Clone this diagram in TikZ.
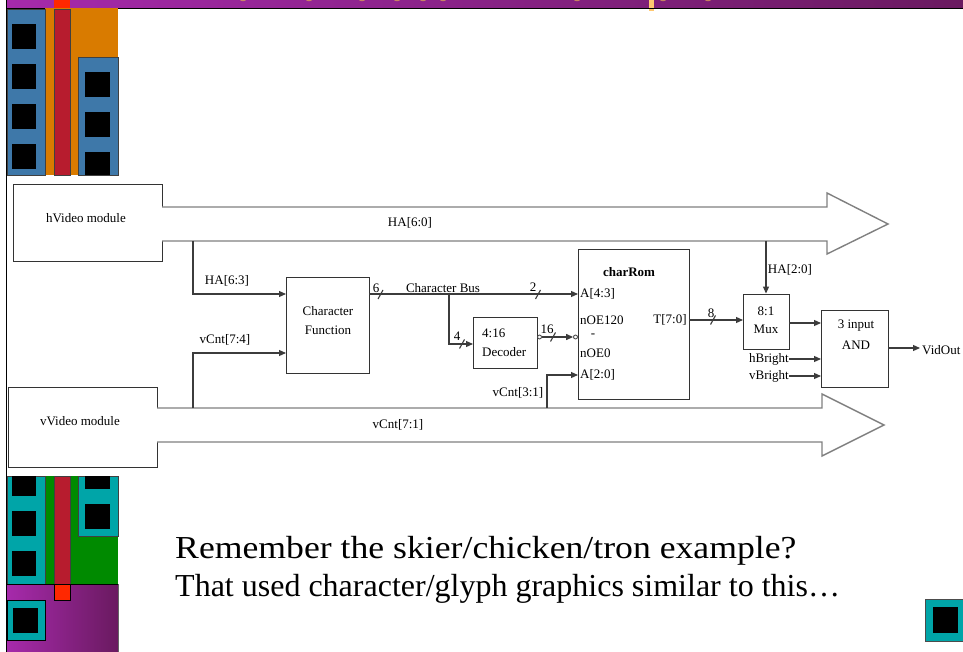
\documentclass[tikz,border=0pt]{standalone}
\usepackage{fontspec}
\setmainfont{Liberation Serif}
\usetikzlibrary{arrows.meta,calc}

\definecolor{slidepurpleL}{HTML}{A62AAB}
\definecolor{slidepurpleR}{HTML}{6A1A60}
\definecolor{steelblue}{HTML}{3E78A9}
\definecolor{amber}{HTML}{D97B00}
\definecolor{crimson}{HTML}{B71C2E}
\definecolor{hotred}{HTML}{FF2800}
\definecolor{tealc}{HTML}{00A5A8}
\definecolor{leaf}{HTML}{008A00}
\definecolor{busgray}{HTML}{808080}
\definecolor{wiregray}{HTML}{3C3C3C}
\definecolor{titlebit}{HTML}{D8985C}
\definecolor{titlebar}{HTML}{FFC870}

\begin{document}
\begin{tikzpicture}[x=1pt,y=-1pt,
  box/.style={draw=black!80, line width=0.9pt, fill=white, inner sep=0pt},
  wire/.style={draw=wiregray, line width=1.1pt},
  arrowend/.style={-{Triangle[length=7pt,width=6pt]}},
  bus/.style={draw=busgray, line width=1.4pt, line join=miter},
  lbl/.style={font=\fontsize{13}{14}\selectfont, inner sep=0pt},
  deco/.style={draw=black!75, line width=0.6pt},
  hole/.style={fill=black},
  bubble/.style={circle, draw=wiregray, line width=0.8pt, fill=white, inner sep=0pt, minimum size=4pt},
  busslash/.pic={\draw[wire] (-2.5,4.5) -- (2.5,-4.5);}]

\useasboundingbox (0,0) rectangle (963,652);
\fill[white] (0,0) rectangle (963,652);

% ---------- slide frame: title band and left border ----------
\shade[left color=slidepurpleL, right color=slidepurpleR] (7,0) rectangle (963,8);
\foreach \bx in {243,309,362,397,423,443,577,663,708}
  \fill[titlebit, opacity=0.8] (\bx,0) ellipse (3 and 1.2);
\fill[titlebar] (649,0) rectangle (654,11);
\draw[black, line width=1pt] (7,8.5) -- (963,8.5);
\draw[black, line width=1.2pt] (6.5,0) -- (6.5,652);

% ---------- upper building strip ----------
\fill[amber] (45,8) rectangle (118,175);
\draw[deco, fill=steelblue] (7,9) rectangle (45,175);
\draw[deco, fill=crimson] (54,9) rectangle (70,175);
\draw[deco, fill=steelblue] (78,57) rectangle (118,175);
\fill[hotred] (54,0) rectangle (70,8);
\foreach \wy in {24,64,104,144} \fill[hole] (12,\wy) rectangle (36,\wy+25);
\foreach \wy in {72,112,152} \fill[hole] (85,\wy) rectangle (110,{min(\wy+25,175)});

% ---------- lower building strip ----------
\fill[leaf] (45,476) rectangle (118,584);
\draw[deco, fill=tealc] (7,476) rectangle (45,584);
\draw[deco, fill=crimson] (54,476) rectangle (70,584);
\draw[deco, fill=tealc] (78,476) rectangle (118,536);
\fill[hole] (12,476) rectangle (36,496);
\fill[hole] (12,511) rectangle (36,536);
\fill[hole] (12,551) rectangle (36,576);
\fill[hole] (85,476) rectangle (110,489);
\fill[hole] (85,504) rectangle (110,529);
\shade[left color=slidepurpleL, right color=slidepurpleR] (7,584) rectangle (118,652);
\draw[black, line width=0.8pt] (7,584) -- (118,584);
\draw[black!60, line width=0.8pt] (118,584) -- (118,652);
\draw[black, line width=0.8pt, fill=hotred] (54,584) rectangle (70,600);
\draw[black, line width=0.8pt, fill=tealc] (7,600) rectangle (45,640);
\fill[hole] (13,608) rectangle (38,633);

% corner badge
\draw[black!70, line width=0.6pt, fill=tealc] (925,599) rectangle (963,641);
\fill[hole] (933,607) rectangle (958,633);

% ---------- block diagram ----------
\node[box, minimum width=149pt, minimum height=77pt] (hvid) at (87.5,222.5) {};
\node[box, minimum width=149pt, minimum height=80pt] (vvid) at (82.5,427) {};
\node[lbl] (hvidtxt) at (86,218) {hVideo module};
\node[lbl] (vvidtxt) at (80,421) {vVideo module};

% wide bus arrows
\coordinate (habusT) at (162,207);
\coordinate (habusB) at (162,241);
\coordinate (vcbusT) at (157,408);
\coordinate (vcbusB) at (157,442);
\draw[bus, fill=white] (habusT) -- (827,207) -- (827,193) -- (888,224) -- (827,254) -- (827,241) -- (habusB);
\draw[bus, fill=white] (vcbusT) -- (822,408) -- (822,394) -- (884,425) -- (822,456) -- (822,442) -- (vcbusB);
\node[lbl] (ha60) at (410,223) {HA[6:0]};
\node[lbl] (vc71) at (398,425) {vCnt[7:1]};

% functional blocks
\node[box, minimum width=83pt, minimum height=96pt] (cf) at (327.5,325) {};
\node[box, minimum width=64pt, minimum height=51pt] (dec) at (505,342.5) {};
\node[box, minimum width=111pt, minimum height=150pt] (rom) at (633.5,324) {};
\node[box, minimum width=46pt, minimum height=55pt] (mux) at (766,321.5) {};
\node[box, minimum width=67pt, minimum height=77pt] (andg) at (854.5,348.5) {};

\node[lbl] (cft1) at (328,311) {Character};
\node[lbl] (cft2) at (328,330) {Function};
\node[lbl, anchor=west] (dect1) at (482,333) {4:16};
\node[lbl, anchor=west] (dect2) at (482,352) {Decoder};
\node[lbl, font=\fontsize{13}{14}\selectfont\bfseries] (romt) at (629,272) {charRom};
\node[lbl, anchor=west] (pA43) at (580,294) {A[4:3]};
\node[lbl, anchor=west] (pOE120) at (580,320) {nOE120};
\node[lbl] (pdots) at (593,336) {-};
\node[lbl, anchor=west] (pOE0) at (580,353) {nOE0};
\node[lbl, anchor=west] (pA20) at (580,375) {A[2:0]};
\node[lbl] (pT70) at (670,320) {T[7:0]};
\node[lbl] (muxt1) at (766,311) {8:1};
\node[lbl] (muxt2) at (766,329) {Mux};
\node[lbl] (andt1) at (856,326) {3 input};
\node[lbl] (andt2) at (856,345) {AND};

% pin points on the block edges
\coordinate (tap63) at (193,241);
\coordinate (tap74) at (193,408);
\coordinate (tap31) at (547,408);
\coordinate (tap20) at (766,241);
\coordinate (cfIn1) at (286,294);
\coordinate (cfIn2) at (286,353);
\coordinate (cfOut) at (369,294);
\coordinate (romA43) at (578,294);
\coordinate (romA20) at (578,375);
\coordinate (branch) at (449,294);
\coordinate (decIn) at (473,344);
\coordinate (romOut) at (689,320);
\coordinate (muxIn) at (743,320);
\coordinate (muxOut) at (789,323);
\coordinate (andIn1) at (821,323);
\coordinate (andIn2) at (821,359);
\coordinate (andIn3) at (821,376);
\coordinate (andOut) at (888,348);
\coordinate (vidOut) at (920,348);
\coordinate (hbS) at (789,359);
\coordinate (vbS) at (789,376);
\node[bubble] (bubA) at (539.5,337) {};
\node[bubble] (bubB) at (575.5,337) {};

% connectors
\draw[wire, arrowend] (tap63) |- (cfIn1);
\draw[wire, arrowend] (tap74) |- (cfIn2);
\draw[wire, arrowend] (cfOut) -- (romA43);
\draw[wire, arrowend] (branch) |- (decIn);
\draw[wire, arrowend] (bubA) -- (bubB);
\draw[wire, arrowend] (tap31) |- (romA20);
\draw[wire, arrowend] (romOut) -- (muxIn);
\draw[wire, arrowend] (tap20) -- (mux.north);
\draw[wire, arrowend] (muxOut) -- (andIn1);
\draw[wire, arrowend] (hbS) -- (andIn2);
\draw[wire, arrowend] (vbS) -- (andIn3);
\draw[wire, arrowend] (andOut) -- (vidOut);

% bus width marks
\pic at (380.5,294.5) {busslash};
\pic at (538,294.5) {busslash};
\pic at (462,344) {busslash};
\pic at (553,337) {busslash};
\pic at (713,320) {busslash};

% wire labels
\node[lbl] (l63) at (227,281) {HA[6:3]};
\node[lbl] (l74) at (225,340) {vCnt[7:4]};
\node[lbl] (l6) at (376,288) {6};
\node[lbl] (lcb) at (443,288) {Character Bus};
\node[lbl] (l2) at (533,287) {2};
\node[lbl] (l4) at (457,336) {4};
\node[lbl] (l16) at (547,329) {16};
\node[lbl] (l31) at (518,393) {vCnt[3:1]};
\node[lbl] (l8) at (711,313) {8};
\node[lbl] (l20) at (790,270) {HA[2:0]};
\node[lbl, anchor=east] (lhb) at (hbS) {hBright};
\node[lbl, anchor=east] (lvb) at (vbS) {vBright};
\node[lbl, anchor=west] (lvo) at (922,350) {VidOut};

% ---------- slide text ----------
\node[anchor=west, inner sep=0pt, xscale=1.115, font=\fontsize{32}{36}\selectfont] (line1) at (175,551) {Remember the skier/chicken/tron example?};
\node[anchor=west, inner sep=0pt, font=\fontsize{32}{36}\selectfont] (line2) at (175,589) {That used character/glyph graphics similar to this…};
\end{tikzpicture}
\end{document}
